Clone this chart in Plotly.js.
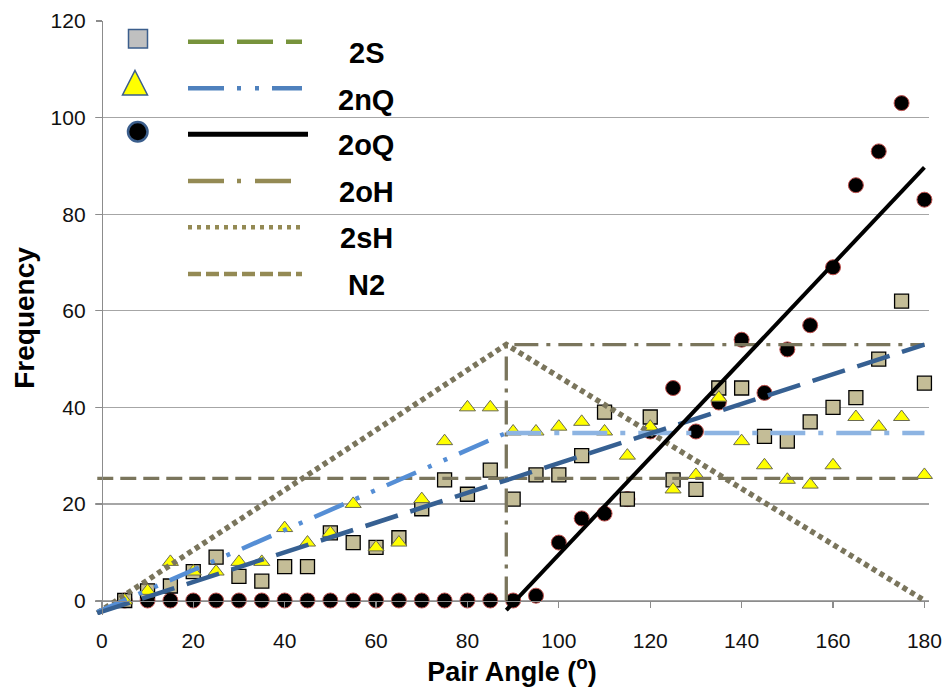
<!DOCTYPE html>
<html>
<head>
<meta charset="utf-8">
<script src="https://cdn.plot.ly/plotly-3.0.1.min.js"></script>
<style>html,body{margin:0;padding:0;background:#fff;}#chart{width:943px;height:687px;}</style>
</head>
<body>
<div id="chart"></div>
<script>
// ---- data ----
const angles = [5,10,15,20,25,30,35,40,45,50,55,60,65,70,75,80,85,90,95,100,105,110,115,120,125,130,135,140,145,150,155,160,165,170,175,180];
const freq2S  = [0,2,3,6,9,5,4,7,7,14,12,11,13,19,25,22,27,21,26,26,30,39,21,38,25,23,44,44,34,33,37,40,42,50,62,45];
const freq2nQ = [0,2,8,6,6,8,8,15,12,14,20,11,12,21,33,40,40,35,35,36,37,35,30,36,23,26,42,33,28,25,24,28,38,36,38,26];
const freq2oQ = [0,0,0,0,0,0,0,0,0,0,0,0,0,0,0,0,0,0,1,12,17,18,21,35,44,35,41,54,43,52,57,69,86,93,103,83];

// model lines
const fit2S_x = [-1, 180],        fit2S_y = [-2.6, 53];
const fit2nQrise_x = [-1, 88.5],  fit2nQrise_y = [-2.4, 34.7];
const fit2nQflat_x = [88.5, 180], fit2nQflat_y = [34.7, 34.7];
const fit2oQ_x = [88.5, 180],     fit2oQ_y = [-2, 89.7];
const line2oH_x = [88.5, 88.5, 180], line2oH_y = [0, 53, 53];
const line2sH_x = [-1, 88.5, 180],   line2sH_y = [-2.6, 53, 0];
const lineN2_x = [-1, 180],          lineN2_y = [25.3, 25.3];

const legendLabels = ['2S','2nQ','2oQ','2oH','2sH','N2'];
const xTicks = [0,20,40,60,80,100,120,140,160,180];
const yTicks = [0,20,40,60,80,100,120];

// ---- geometry helpers (pixels -> paper) ----
const W = 943, H = 687, ML = 95, MR = 14, MT = 21, MB = 72;
const PW = W - ML - MR, PH = H - MT - MB;
const px = x => (x - ML) / PW;
const py = y => (H - MB - y) / PH;
const XR = [-1.5, 181], YR = [-3, 120];

const olive = '#7A755C';
const traces = [
  {x: angles, y: freq2oQ, mode: 'markers', cliponaxis: false,
   marker: {symbol: 'circle', size: 15, color: '#000000', line: {color: '#C0504D', width: 1}}},
  {x: angles, y: freq2S, mode: 'markers', cliponaxis: false,
   marker: {symbol: 'square', size: 14, color: '#C4BD97', line: {color: '#000000', width: 1.3}}},
  {x: angles, y: freq2nQ, mode: 'markers', cliponaxis: false,
   marker: {symbol: 'triangle-up', size: 14, color: '#FFFF00', line: {color: '#6B6B50', width: 1}}},
  {x: lineN2_x, y: lineN2_y, mode: 'lines', line: {color: olive, width: 3.3, dash: '16px,7px'}},
  {x: line2oH_x, y: line2oH_y, mode: 'lines', line: {color: olive, width: 3.3, dash: '24px,8px,4px,8px'}},
  {x: line2sH_x, y: line2sH_y, mode: 'lines', line: {color: olive, width: 5.5, dash: '5px,4px'}},
  {x: fit2nQflat_x, y: fit2nQflat_y, mode: 'lines', line: {color: '#8DB4E2', width: 4.5, dash: '35px,13px,5px,13px'}},
  {x: fit2nQrise_x, y: fit2nQrise_y, mode: 'lines', line: {color: '#558ED5', width: 4.5, dash: '32px,13px,4px,13px,4px,13px'}},
  {x: fit2S_x, y: fit2S_y, mode: 'lines', line: {color: '#366092', width: 4.5, dash: '34px,13px'}},
  {x: fit2oQ_x, y: fit2oQ_y, mode: 'lines', line: {color: '#000000', width: 4}}
];
traces.forEach(t => { t.type = 'scatter'; t.showlegend = false; t.hoverinfo = 'skip'; });

// ---- hand-drawn legend (as in the original picture) ----
const legendLineY = [41.7, 88.3, 134.3, 181, 227.3, 274];
const legendLineStyle = [
  {color: '#77933C', width: 4.5, dash: '36px,13px'},
  {color: '#4F81BD', width: 4.5, dash: '36px,13px,4px,14px,4px,13px'},
  {color: '#000000', width: 5, dash: 'solid'},
  {color: '#948A54', width: 4.5, dash: '36px,13px,4px,14px'},
  {color: '#948A54', width: 4.5, dash: '4px,5px'},
  {color: '#948A54', width: 4.5, dash: '13px,5px'}
];
const legendLabelY = [53, 100, 145, 192, 238, 285];
const shapes = [];
legendLineY.forEach((ly, i) => {
  shapes.push({type: 'line', xref: 'paper', yref: 'paper',
    x0: px(188), x1: px(i === 2 ? 308 : 302), y0: py(ly), y1: py(ly), line: legendLineStyle[i]});
});
shapes.push({type: 'rect', xref: 'paper', yref: 'paper', x0: px(128.5), x1: px(147.5), y0: py(48), y1: py(29.5),
  fillcolor: '#C0C0C0', line: {color: '#3B5E8C', width: 1.5}});
shapes.push({type: 'path', xref: 'paper', yref: 'paper',
  path: `M ${px(135)},${py(70.5)} L ${px(147.5)},${py(95)} L ${px(122.5)},${py(95)} Z`,
  fillcolor: '#FFFF00', line: {color: '#3B5E8C', width: 1.5}});
shapes.push({type: 'circle', xref: 'paper', yref: 'paper', x0: px(128), x1: px(147.5), y0: py(141.5), y1: py(122),
  fillcolor: '#000000', line: {color: '#3B5E8C', width: 2.5}});

const annotations = legendLabels.map((lab, i) => ({
  xref: 'paper', yref: 'paper', x: px(366), y: py(legendLabelY[i]), xanchor: 'center', yanchor: 'middle',
  showarrow: false, text: '<b>' + lab + '</b>', font: {family: 'Liberation Sans, Arial, sans-serif', size: 29, color: '#000'}
}));

const layout = {
  width: W, height: H,
  margin: {l: ML, r: MR, t: MT, b: MB, pad: 0},
  paper_bgcolor: '#ffffff', plot_bgcolor: '#ffffff',
  font: {family: 'Liberation Sans, Arial, sans-serif', size: 21, color: '#111'},
  showlegend: false,
  xaxis: {
    range: XR, tickvals: xTicks, ticktext: xTicks.map(String),
    showgrid: false, zeroline: false, showline: true, linecolor: '#8C8C8C', linewidth: 1.6,
    ticks: 'outside', ticklen: 6, tickwidth: 1.3, tickcolor: '#8C8C8C',
    anchor: 'free', position: (0 - YR[0]) / (YR[1] - YR[0]),
    ticklabelstandoff: 15,
    title: {text: '<b>Pair Angle (<sup>o</sup>)</b>', font: {size: 27, color: '#000'}, standoff: 8}
  },
  yaxis: {
    range: YR, tickvals: yTicks, ticktext: yTicks.map(String),
    showgrid: true, gridcolor: '#A6A6A6', gridwidth: 1.3, zeroline: false,
    showline: true, linecolor: '#8C8C8C', linewidth: 1.6,
    ticks: 'outside', ticklen: 6, tickwidth: 1.3, tickcolor: '#8C8C8C',
    anchor: 'free', position: (0 - XR[0]) / (XR[1] - XR[0]),
    ticklabelstandoff: 6,
    title: {text: '<b>Frequency</b>', font: {size: 28, color: '#000'}, standoff: 6}
  },
  shapes: shapes,
  annotations: annotations
};

Plotly.newPlot('chart', traces, layout, {displayModeBar: false, staticPlot: true});
</script>
</body>
</html>
